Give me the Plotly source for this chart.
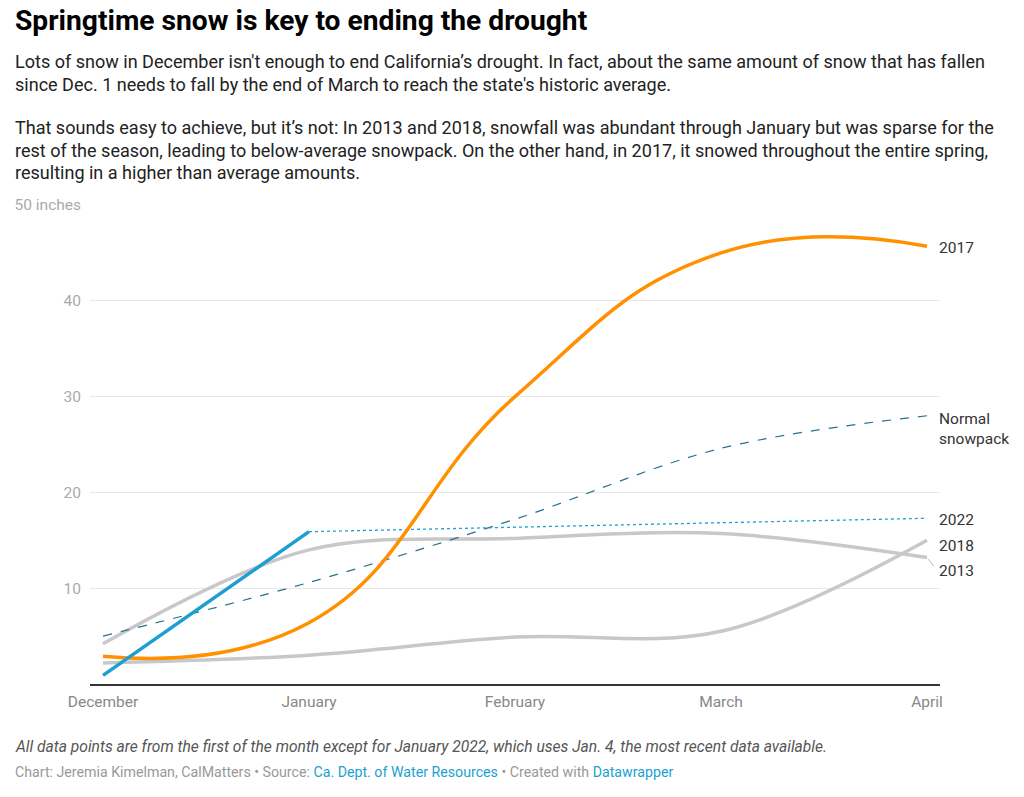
import plotly.graph_objects as go

months = ["December", "January", "February", "March", "April"]
x_idx = [0, 1, 2, 3, 4]
snow_2017 = [2.9, 6.4, 30.0, 45.0, 45.7]
snow_2013 = [4.2, 14.0, 15.2, 15.7, 13.2]
snow_2018 = [2.2, 3.0, 4.9, 5.5, 15.0]
normal = [5.0, 10.6, 17.2, 24.6, 28.0]
snow_2022 = [0.9, 15.9]
proj_2022 = [15.9, 17.3]
y_ticks = [10, 20, 30, 40, 50]
y_ticktext = ["10", "20", "30", "40", "50 inches"]

W, H = 1024, 797
L, R, T, B = 90, 940, 205, 684

def px(xp):
    return (xp - L) / (R - L)

def py(yp):
    return (B - yp) / (B - T)

FONT = "Roboto"
GRAY = "#c8c8c8"
ORANGE = "#ff9100"
BLUE = "#1d9fd1"
TEAL = "#2f6f8c"

fig = go.Figure()
fig.add_trace(go.Scatter(x=x_idx, y=snow_2018, mode="lines",
                         line=dict(color=GRAY, width=3.5, shape="spline", smoothing=1.0)))
fig.add_trace(go.Scatter(x=x_idx, y=snow_2013, mode="lines",
                         line=dict(color=GRAY, width=3.5, shape="spline", smoothing=1.0)))
fig.add_trace(go.Scatter(x=x_idx, y=normal, mode="lines",
                         line=dict(color=TEAL, width=1.2, dash="dash", shape="spline", smoothing=1.0)))
fig.add_trace(go.Scatter(x=[x_idx[1], x_idx[4]], y=proj_2022, mode="lines",
                         line=dict(color=BLUE, width=1.3, dash="dot")))
fig.add_trace(go.Scatter(x=x_idx, y=snow_2017, mode="lines",
                         line=dict(color=ORANGE, width=3.5, shape="spline", smoothing=1.3)))
fig.add_trace(go.Scatter(x=x_idx[:2], y=snow_2022, mode="lines",
                         line=dict(color=BLUE, width=3.5)))

ann = []
LAB = 15.5
def lab(text, yv, yshift, yanchor="middle"):
    ann.append(dict(x=4, y=yv, xref="x", yref="y", text=text, showarrow=False,
                    xanchor="left", yanchor=yanchor, xshift=10, yshift=yshift, align="left",
                    font=dict(family=FONT, size=LAB, color="#333333")))

lab("2017", snow_2017[-1], -2)
lab("Normal<br>snowpack", normal[-1], 8, "top")
lab("2022", proj_2022[-1], -2)
lab("2018", snow_2018[-1], -6)
lab("2013", snow_2013[-1], -13)
# connector for 2013
ann.append(dict(x=4, y=snow_2013[-1], xref="x", yref="y", ax=8, ay=10, axref="pixel", ayref="pixel",
                text="", showarrow=True, arrowhead=0, arrowwidth=1, arrowcolor="#bbbbbb",
                standoff=2))

def txt(text, xp, yp, size, color, bold=False, italic=False):
    t = text
    if bold:
        t = "<b>" + t + "</b>"
    if italic:
        t = "<i>" + t + "</i>"
    ann.append(dict(x=px(xp), y=py(yp), xref="paper", yref="paper", text=t, showarrow=False,
                    xanchor="left", yanchor="middle", align="left",
                    font=dict(family=FONT, size=size, color=color)))

txt("Springtime snow is key to ending the drought", 13, 20, 28.2, "#000000", bold=True)
sub = [
    ("Lots of snow in December isn't enough to end California’s drought. In fact, about the same amount of snow that has fallen", 62),
    ("since Dec. 1 needs to fall by the end of March to reach the state's historic average.", 84),
    ("That sounds easy to achieve, but it’s not: In 2013 and 2018, snowfall was abundant through January but was sparse for the", 128),
    ("rest of the season, leading to below-average snowpack. On the other hand, in 2017, it snowed throughout the entire spring,", 150),
    ("resulting in a higher than average amounts.", 172),
]
for s, yp in sub:
    txt(s, 13, yp, 18.05, "#222222")

txt("All data points are from the first of the month except for January 2022, which uses Jan. 4, the most recent data available.",
    13, 747, 15.6, "#555555", italic=True)
txt("Chart: Jeremia Kimelman, CalMatters • Source: <span style='color:#1d9fd1'>Ca. Dept. of Water Resources</span> • Created with <span style='color:#1d9fd1'>Datawrapper</span>",
    13, 772, 14.2, "#999999")

fig.update_layout(
    width=W, height=H,
    margin=dict(l=L, r=W - R, t=T, b=H - B, pad=0),
    paper_bgcolor="white", plot_bgcolor="white",
    showlegend=False,
    font=dict(family=FONT),
    annotations=ann,
    xaxis=dict(range=[-13 / 206, 4 + 13 / 206], tickvals=x_idx, ticktext=months,
               showgrid=False, zeroline=False, showline=True, linecolor="#333333", linewidth=1.5,
               ticks="", tickfont=dict(family=FONT, size=15.5, color="#888888"),
               ticklabelstandoff=3, fixedrange=True),
    yaxis=dict(range=[0, 50], tickvals=y_ticks, ticktext=y_ticktext,
               showgrid=True, gridcolor="#e8e8e8", gridwidth=1, zeroline=False, showline=False,
               ticks="", tickfont=dict(family=FONT, size=15.5, color="#aaaaaa"),
               ticklabelstandoff=8, fixedrange=True),
)

fig.write_html("out.html", config={"displayModeBar": False},
               post_script="document.body.style.margin='0';")
